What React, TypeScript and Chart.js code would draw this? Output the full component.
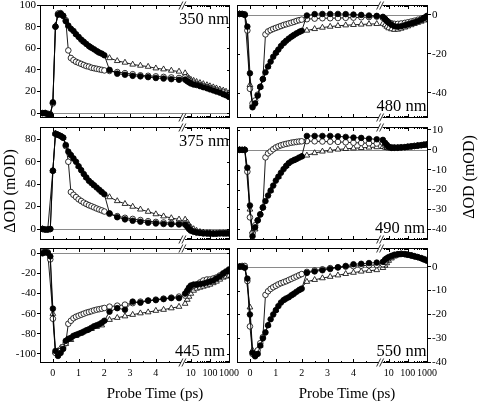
import React, { useEffect, useRef } from 'react';
import { Chart, registerables } from 'chart.js';
Chart.register(...registerables);

const _ = null;
const FONT = "'Liberation Serif', 'Times New Roman', serif";

// probe times (ps): linear segment and logarithmic segment
const LIN_T = [-0.4, -0.3, -0.2, -0.1, 0, 0.1, 0.2, 0.3, 0.4, 0.5, 0.6, 0.7, 0.8, 0.9, 1.0, 1.1, 1.2, 1.3, 1.4, 1.5, 1.6, 1.7, 1.8, 1.9, 2.0, 2.2, 2.5, 2.8, 3.1, 3.4, 3.7, 4.0, 4.3, 4.6, 4.9];
const LOG_T = [5, 6.5, 8, 10, 14, 20, 30, 45, 70, 100, 150, 220, 330, 500, 700, 1000];

// x tick labels
const X_LIN_MAJOR = [0, 1, 2, 3, 4];
const X_LIN_MINOR = [0.5, 1.5, 2.5, 3.5, 4.5];
const X_LOG_MAJOR = [10, 100, 1000];
const X_LOG_MINOR = [6, 7, 8, 9, 20, 30, 40, 50, 60, 70, 80, 90, 200, 300, 400, 500, 600, 700, 800, 900];

// y tick labels
const Y350 = [0, 20, 40, 60, 80, 100];
const Y480 = [-40, -20, 0];
const Y375 = [0, 20, 40, 60, 80];
const Y490 = [-40, -30, -20, -10, 0, 10];
const Y445 = [-100, -80, -60, -40, -20, 0];
const Y550 = [-40, -30, -20, -10, 0];

// 350 nm
const F350 = [0, 0, -1, -1.5, 10, 80, 91, 92, 90, 85, 81, 78, 76, 73, 70.5, 68, 66, 64, 62, 60.5, 59, 57.5, 56, 55, 53.5, 40, 36.5, 35.5, 34.5, 34, 33.3, 32.5, 32, 31.4, 30.8];
const O350 = [0, 0, -0.5, -1, 9, 80, 92, 92.5, 90, 86, 58, 51, 49, 47.5, 46.5, 45.5, 44.5, 43.5, 43, 42, 41.5, 41, 40.5, 40, 39.5, 39, 38, 37, 36, 35, 34.5, 34, 33.5, 33, 32.5];
const T350 = [_, 0, _, -1, 10, 81, 92, _, 90, _, 81, _, _, 73, _, _, 66, _, _, 60.5, _, _, 56, _, _, 51, 48.3, 46.8, 45, 44, 43, 41.5, 40.6, 39.4, 38.5];
const F350L = [31, 29.5, 28.5, 27.5, 26.5, 26, 25, 24, 23, 22, 21, 20, 19, 17.5, 16.5, 15];
const O350L = [33, 31, 30, 29, 28, 27, 26, 25, 24, 23, 22, 21, 20, 19, 18, 16.5];
const T350L = [37, 34, 32, 31, 30, 29, 28, 27, 26, 25, 24, 23, 22, 21, 20, 18.5];

// 480 nm
const F480 = [0.5, 0.5, 0, -6, -30, -47.5, -45.5, -41.5, -37, -33, -29.5, -26.5, -24, -21.5, -19.5, -17.8, -16, -14.5, -13.3, -12.2, -11.2, -10.3, -9.5, -8.8, -8.2, -0.3, 0.4, 0.5, 0.5, 0.5, 0.4, 0.2, 0, -0.3, -0.5];
const O480 = [0.5, 0.5, 0.3, -8, -38, -45.5, -44, -41, -37, -33, -10, -8.5, -7.8, -7.2, -6.7, -6.2, -5.7, -5.2, -4.8, -4.4, -4, -3.6, -3.1, -2.7, -2.4, -2.2, -1.9, -1.7, -1.7, -1.6, -1.5, -1.4, -1.2, -1.1, -0.9];
const T480 = [0.5, _, 0.3, _, -36, -46, -45, _, -37, _, _, -26.5, _, _, -19.5, _, _, -14.5, _, _, -11.2, _, _, -8.8, _, -8, -7.2, -6.5, -6, -5.6, -5.3, -5.1, -4.9, -4.7, -4.6];
const F480L = [-1, -2, -3, -4, -5, -5.8, -6, -5.8, -5.3, -4.8, -4.3, -3.8, -3.2, -2.5, -1.5, -0.5];
const O480L = [-1.5, -2.2, -3, -3.7, -4.3, -4.6, -4.6, -4.4, -4.1, -3.8, -3.4, -3, -2.5, -2, -1.5, -1];
const T480L = [-4.5, -5.2, -6, -6.8, -7.3, -7.6, -7.5, -7, -6.4, -5.8, -5.2, -4.6, -4, -3.4, -2.8, -2.2];

// 375 nm
const F375 = [0, -0.5, -0.5, 0, 52, 85, 84, 83, 81.5, 75, 69, 66, 63, 60, 56, 52.5, 49, 46, 43, 41, 39, 37, 35, 33, 31, 14, 10.5, 8.6, 7.4, 6.5, 5.6, 5, 4.5, 4.2, 4.1];
const O375 = [0, -0.5, -0.5, 0, 52, 85, 84, 83, 81.5, 74, 60, 33, 30.5, 28.5, 26.5, 25, 23.5, 22.3, 21.2, 20.3, 19.3, 18.3, 17.4, 16.6, 15.6, 13.5, 11.5, 10, 9, 8, 7, 6.3, 5.8, 5.3, 5];
const T375 = [0, _, -0.5, _, 52, 85, 84, _, 81.5, _, _, 66, _, _, 56, _, _, 46, _, _, 39, _, _, 33, _, 28.5, 25, 22.5, 20, 17.5, 15.5, 13.3, 11.4, 9.8, 8.6];
const F375L = [4, 2, 0, -1.5, -2.5, -3, -3.5, -4, -4, -4, -4.2, -4.2, -4, -4, -4, -4];
const O375L = [5, 3, 1, -1, -2, -3, -3.3, -3.5, -3.8, -4, -4, -3.8, -3.5, -3.5, -3.5, -3.5];
const T375L = [8.5, 6, 3.5, 1.5, 0, -1.5, -2.5, -3, -3.5, -3.5, -3.8, -4, -4, -3.8, -3.8, -3.8];

// 490 nm
const F490 = [0, 0, 0, -9, -28, -43.5, -39, -35.5, -32.5, -29, -25.8, -23, -20.5, -18, -15.5, -13.5, -11.5, -9.7, -8.1, -6.7, -5.8, -5.2, -4.6, -3.9, -3.3, 7, 7, 7, 7, 6.8, 6.5, 6.2, 6, 5.6, 5.3];
const O490 = [0, 0, 0, -11, -34, -42, -38, -35.5, -32.5, -29, -3.8, -1.8, -0.8, 0.3, 1.2, 1.8, 2.3, 2.7, 3, 3.3, 3.6, 3.8, 4, 4.2, 4.3, 4.4, 4.3, 4.2, 4.1, 4, 3.8, 3.6, 3.5, 3.3, 3.2];
const T490 = [0, _, 0, _, -30, -41, -40, _, _, -29, _, _, -20.5, _, _, -13.5, _, _, -8.1, _, _, -5.2, _, _, -3.3, -2.8, -1.6, -0.8, -0.3, 0.2, 0.5, 0.8, 1, 1.2, 1.4];
const F490L = [5, 3.5, 2.5, 1.5, 1, 1, 1, 1.2, 1.3, 1.5, 1.7, 1.9, 2.1, 2.3, 2.5, 2.7];
const O490L = [3.5, 2.5, 2, 1.5, 1.3, 1.2, 1.2, 1.3, 1.4, 1.6, 1.8, 2, 2.2, 2.4, 2.6, 2.8];
const T490L = [1.5, 1.2, 1, 0.8, 0.8, 0.9, 1, 1.1, 1.2, 1.4, 1.6, 1.8, 2, 2.2, 2.4, 2.6];

// 445 nm
const F445 = [0, 1, 0.5, -3, -55, -97, -102, -99, -95, -87, -85, -84, -82, -81, -80, -79, -77.8, -76.5, -75.5, -74, -72.5, -71.5, -70.5, -69, -67, -58, -54.5, -56, -48, -49, -47, -46.5, -45.5, -44.5, -44.5];
const O445 = [1, 1.5, 1, -6, -65, -99, -100, -97, -93, -89, -70, -67, -64.5, -63, -62, -61, -60, -59, -58.3, -57.5, -56.7, -56, -55.5, -55, -54.3, -53, -52, -51, -49.5, -48, -47, -46, -45, -44, -43];
const T445 = [0, _, 0.5, _, -60, -98, -97, -94, _, -90, _, -86, _, -82, _, -79.5, _, -77, _, -75, _, -73, _, -71.5, _, -66, -64, -62.5, -61, -59.5, -58.5, -57, -56, -54.5, -53];
const F445L = [-40, -37, -34, -32, -31, -31, -30.5, -30, -29, -28, -27, -25, -23, -20, -18, -16];
const O445L = [-42, -38, -35, -33, -32, -31, -29, -27, -26, -26, -25, -24, -22, -20, -19, -17];
const T445L = [-50, -46, -43, -40, -37, -35, -34, -33, -32, -31, -29.5, -28, -26, -24, -23, -22];

// 550 nm
const F550 = [0, 0, -0.5, -5, -20, -36, -37.5, -36.5, -33, -30, -27.5, -24.5, -22, -20, -18.2, -16.5, -15, -14, -13.3, -12.8, -12, -11.3, -10.5, -9.8, -9.2, -2.6, -2, -1.5, -1, -0.3, 0.3, 1, 1.2, 1.5, 1.7];
const O550 = [0, 0.3, 0.3, -6, -25, -36.5, -37, -35, -32, -29.5, -11.8, -10.3, -9.3, -8.6, -8, -7.4, -6.9, -6.5, -6.1, -5.6, -5.1, -4.6, -4.1, -3.6, -3.1, -2.2, -1.6, -1.1, -0.6, -0.3, 0, 0.2, 0.4, 0.6, 0.7];
const T550 = [0, _, 0, _, -17, -35, -37, _, -33, _, _, -24.5, _, _, -18.2, _, _, -14, _, _, -12, _, _, -9.8, _, -6.3, -5.5, -4.8, -4.2, -3.6, -3, -2.5, -2, -1.7, -1.4];
const F550L = [2, 3, 3.5, 4, 4.5, 5, 5.2, 5.3, 5.2, 5, 4.7, 4.3, 4, 3.5, 3, 2.5];
const O550L = [1, 2, 3, 3.5, 4.2, 4.8, 5.2, 5.4, 5.3, 5, 4.7, 4.4, 4, 3.6, 3.2, 2.8];
const T550L = [-0.5, 0.5, 1.5, 2.5, 3.5, 4.3, 4.8, 5, 5, 4.8, 4.5, 4.2, 3.8, 3.4, 3, 2.6];

// broken-axis mapping (axis units)
const X_MIN = -0.5;
const X_MAX = 6.88;
const BREAK_X = 5.05;
const LOG_A = 4.62;
const LOG_B = 0.74;
const logPos = (t: number) => LOG_A + LOG_B * Math.log10(t);

const X_TICKS = [
  ...X_LIN_MAJOR.map((v) => ({ pos: v, label: String(v), major: true })),
  ...X_LIN_MINOR.map((v) => ({ pos: v, label: '', major: false })),
  ...X_LOG_MAJOR.map((v) => ({ pos: logPos(v), label: String(v), major: true })),
  ...X_LOG_MINOR.map((v) => ({ pos: logPos(v), label: '', major: false })),
].sort((a, b) => a.pos - b.pos);

const PANELS = [
  { name: '350 nm', col: 'left', row: 0, yMin: -4.5, yMax: 100, yTicks: Y350, lin: [F350, O350, T350], log: [F350L, O350L, T350L], lab: 'top', dx: 1 },
  { name: '480 nm', col: 'right', row: 0, yMin: -53, yMax: 5.1, yTicks: Y480, lin: [F480, O480, T480], log: [F480L, O480L, T480L], lab: 'bottom', dx: 1.5 },
  { name: '375 nm', col: 'left', row: 1, yMin: -9.8, yMax: 91, yTicks: Y375, lin: [F375, O375, T375], log: [F375L, O375L, T375L], lab: 'top', dx: 1 },
  { name: '490 nm', col: 'right', row: 1, yMin: -45.4, yMax: 11.5, yTicks: Y490, lin: [F490, O490, T490], log: [F490L, O490L, T490L], lab: 'bottom', dx: 3 },
  { name: '445 nm', col: 'left', row: 2, yMin: -109, yMax: 5.3, yTicks: Y445, lin: [F445, O445, T445], log: [F445L, O445L, T445L], lab: 'bottom', dx: 5 },
  { name: '550 nm', col: 'right', row: 2, yMin: -40.3, yMax: 7.8, yTicks: Y550, lin: [F550, O550, T550], log: [F550L, O550L, T550L], lab: 'bottom', dx: 1.5 },
];

const COLS: any = {
  left: { canvasLeft: 0, canvasWidth: 240, padLeft: 0, padRight: 10, axisWidth: 40, axisPos: 'left' },
  right: { canvasLeft: 232, canvasWidth: 246, padLeft: 5, padRight: 0, axisWidth: 50, axisPos: 'right' },
};
const ROWS = [
  { top: 5, bottom: 118 },
  { top: 127, bottom: 240 },
  { top: 248, bottom: 363 },
];

function geom(p: any) {
  const col = COLS[p.col];
  const row = ROWS[p.row];
  const xh = p.row === 2 ? 22 : 6;
  const top = row.top - 6;
  const h = row.bottom + xh - top;
  return { left: col.canvasLeft, top, w: col.canvasWidth, h, xh, col };
}

const STYLES = [
  { pointStyle: 'circle', pointRadius: 2.8, pointBackgroundColor: '#000' },
  { pointStyle: 'circle', pointRadius: 2.8, pointBackgroundColor: '#fff' },
  { pointStyle: 'triangle', pointRadius: 3.3, pointBackgroundColor: '#fff' },
];

function pts(xs: number[], ys: any[]) {
  const out: any[] = [];
  ys.forEach((y, i) => {
    if (y !== null && y !== undefined) out.push({ x: xs[i], y });
  });
  return out;
}

function makeChart(canvas: HTMLCanvasElement, p: any) {
  const g = geom(p);
  const linX = LIN_T;
  const logX = LOG_T.map(logPos);
  const datasets: any[] = [];
  for (let k = 0; k < 3; k++) {
    for (const part of ['lin', 'log']) {
      datasets.push({
        data: part === 'lin' ? pts(linX, p.lin[k]) : pts(logX, p.log[k]),
        showLine: true,
        borderColor: '#000',
        borderWidth: 0.9,
        pointBorderColor: '#000',
        pointBorderWidth: 0.8,
        tension: 0,
        fill: false,
        ...STYLES[k],
      });
    }
  }

  const decor = {
    id: 'decor',
    beforeDatasetsDraw(chart: any) {
      const { ctx, chartArea: a } = chart;
      const y0 = Math.round(chart.scales.y.getPixelForValue(0)) + 0.5;
      ctx.save();
      ctx.strokeStyle = '#8a8a8a';
      ctx.lineWidth = 1;
      ctx.beginPath();
      ctx.moveTo(a.left, y0);
      ctx.lineTo(a.right, y0);
      ctx.stroke();
      ctx.restore();
    },
    afterDraw(chart: any) {
      const { ctx, chartArea: a } = chart;
      const xs = chart.scales.x;
      const ys = chart.scales.y;
      ctx.save();
      ctx.strokeStyle = '#000';
      ctx.lineWidth = 1;
      ctx.strokeRect(a.left + 0.5, a.top + 0.5, a.right - a.left - 1, a.bottom - a.top - 1);
      ctx.beginPath();
      X_TICKS.forEach((t) => {
        const px = Math.round(xs.getPixelForValue(t.pos)) + 0.5;
        const len = t.major ? 4 : 2;
        ctx.moveTo(px, a.bottom);
        ctx.lineTo(px, a.bottom - len);
        ctx.moveTo(px, a.top);
        ctx.lineTo(px, a.top + len);
      });
      p.yTicks.forEach((v: number) => {
        const py = Math.round(ys.getPixelForValue(v)) + 0.5;
        if (p.col === 'left') {
          ctx.moveTo(a.right, py);
          ctx.lineTo(a.right - 3, py);
        } else {
          ctx.moveTo(a.left, py);
          ctx.lineTo(a.left + 3, py);
        }
      });
      ctx.stroke();
      // axis break marks
      const xb = xs.getPixelForValue(BREAK_X);
      ctx.fillStyle = '#fff';
      ctx.fillRect(xb - 2, a.top - 1, 4, 3);
      ctx.fillRect(xb - 2, a.bottom - 2, 4, 3);
      ctx.lineWidth = 0.8;
      ctx.beginPath();
      [a.top + 0.5, a.bottom - 0.5].forEach((yy) => {
        ctx.moveTo(xb - 4, yy + 4);
        ctx.lineTo(xb, yy - 4);
        ctx.moveTo(xb - 1, yy + 4);
        ctx.lineTo(xb + 3, yy - 4);
      });
      ctx.stroke();
      // wavelength label
      ctx.fillStyle = '#000';
      ctx.font = `16.5px ${FONT}`;
      ctx.textAlign = 'right';
      ctx.textBaseline = 'alphabetic';
      const by = p.lab === 'top' ? a.top + 19 : a.bottom - 7.5;
      ctx.fillText(p.name, a.right - p.dx, by);
      ctx.restore();
    },
  };

  return new Chart(canvas, {
    type: 'scatter',
    data: { datasets },
    options: {
      responsive: false,
      maintainAspectRatio: false,
      devicePixelRatio: 1,
      animation: false,
      events: [],
      layout: { padding: { left: g.col.padLeft, right: g.col.padRight, top: 6, bottom: 0 } },
      plugins: { legend: { display: false }, tooltip: { enabled: false } },
      scales: {
        x: {
          type: 'linear',
          min: X_MIN,
          max: X_MAX,
          afterBuildTicks: (s: any) => {
            s.ticks = X_TICKS.map((t) => ({ value: t.pos }));
          },
          afterFit: (s: any) => {
            s.height = g.xh;
            s.paddingLeft = 0;
            s.paddingRight = 0;
          },
          ticks: {
            display: p.row === 2,
            autoSkip: false,
            maxRotation: 0,
            minRotation: 0,
            padding: 4,
            color: '#000',
            font: { family: FONT, size: 10 },
            callback: (_v: any, i: number) => X_TICKS[i] ? X_TICKS[i].label : '',
          },
          grid: { display: false, drawTicks: false },
          border: { display: false },
        },
        y: {
          type: 'linear',
          position: g.col.axisPos,
          min: p.yMin,
          max: p.yMax,
          afterBuildTicks: (s: any) => {
            s.ticks = p.yTicks.map((v: number) => ({ value: v }));
          },
          afterFit: (s: any) => {
            s.width = g.col.axisWidth;
            s.paddingTop = 0;
            s.paddingBottom = 0;
          },
          ticks: {
            autoSkip: false,
            padding: 1,
            color: '#000',
            font: { family: FONT, size: 11 },
            callback: (v: any) => String(v),
          },
          grid: { display: true, drawOnChartArea: false, drawTicks: true, tickLength: 3, color: '#000', lineWidth: 1 },
          border: { display: false },
        },
      },
    },
    plugins: [decor],
  } as any);
}

function Panel({ p }: { p: any }) {
  const ref = useRef<HTMLCanvasElement>(null);
  useEffect(() => {
    const chart = makeChart(ref.current as HTMLCanvasElement, p);
    return () => chart.destroy();
  }, []);
  const g = geom(p);
  return (
    <canvas
      ref={ref}
      width={g.w}
      height={g.h}
      style={{ position: 'absolute', left: g.left, top: g.top, width: g.w, height: g.h }}
    />
  );
}

const rotLabel = (cx: number, cy: number): React.CSSProperties => ({
  position: 'absolute',
  left: cx - 70,
  top: cy - 10,
  width: 140,
  height: 20,
  lineHeight: '20px',
  fontSize: 16,
  textAlign: 'center',
  whiteSpace: 'nowrap',
  transform: 'rotate(-90deg)',
  color: '#000',
});

const xLabel = (cx: number): React.CSSProperties => ({
  position: 'absolute',
  left: cx - 100,
  top: 386,
  width: 200,
  height: 15,
  lineHeight: '15px',
  fontSize: 15,
  textAlign: 'center',
  whiteSpace: 'nowrap',
  color: '#000',
});

export default function App() {
  return (
    <div
      style={{
        position: 'fixed',
        left: 0,
        top: 0,
        width: 478,
        height: 404,
        background: '#fff',
        overflow: 'hidden',
        fontFamily: FONT,
      }}
    >
      {PANELS.map((p) => (
        <Panel key={p.name} p={p} />
      ))}
      <div style={rotLabel(9.5, 191)}>ΔOD (mOD)</div>
      <div style={rotLabel(469, 176.5)}>ΔOD (mOD)</div>
      <div style={xLabel(155)}>Probe Time (ps)</div>
      <div style={xLabel(347)}>Probe Time (ps)</div>
    </div>
  );
}
